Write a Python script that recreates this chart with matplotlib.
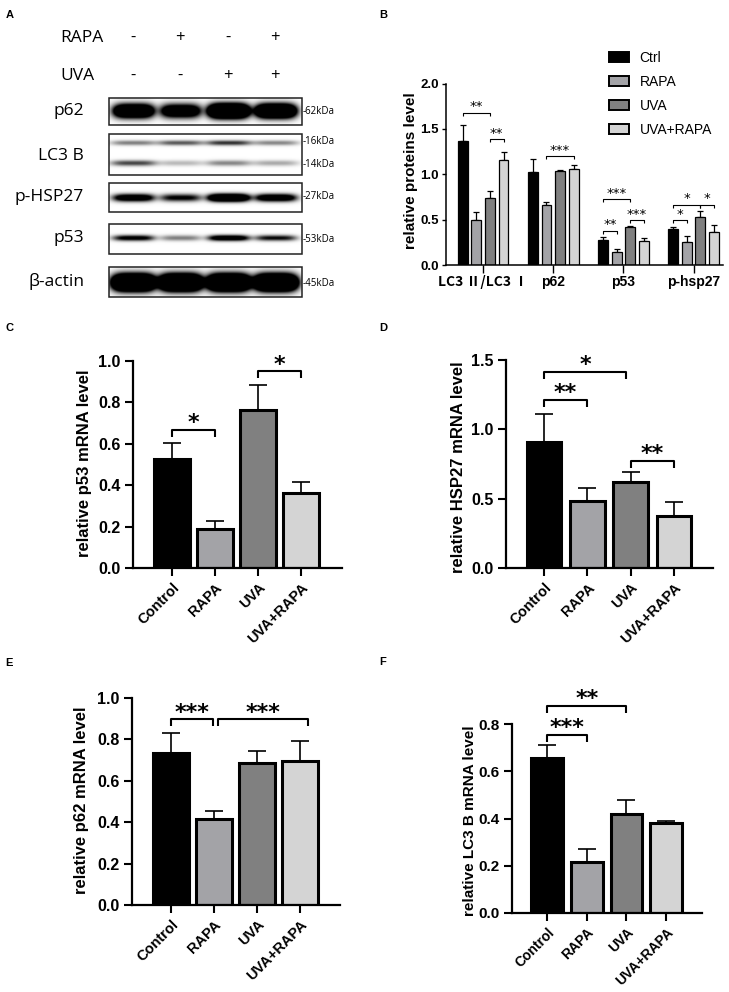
import numpy as np
import matplotlib
matplotlib.use('Agg')
import matplotlib.pyplot as plt
from matplotlib.patches import Rectangle, Patch
from matplotlib.ticker import FormatStrFormatter

W, H = 729, 992
plt.rcParams['font.family'] = ['Liberation Sans', 'DejaVu Sans']
plt.rcParams['font.weight'] = 'bold'
plt.rcParams['axes.labelweight'] = 'bold'

# ------------------------------------------------------------------ data
groups = ['Control', 'RAPA', 'UVA', 'UVA+RAPA']
legend_labels = ['Ctrl', 'RAPA', 'UVA', 'UVA+RAPA']
colors = ['#000000', '#a3a3a7', '#808080', '#d4d4d4']

# panel A (western blot)
rapa_signs = ['-', '+', '-', '+']
uva_signs = ['-', '-', '+', '+']
blot_names = ['p62', 'LC3 B', 'p-HSP27', 'p53', 'β-actin']
p62_band = [3.0, 2.2, 4.6, 3.8]
lc3_16_band = [0.45, 0.62, 0.80, 0.42]
lc3_14_band = [0.70, 0.22, 0.42, 0.28]
hsp27_band = [1.7, 1.1, 2.8, 1.8]
p53_band = [1.2, 0.45, 1.6, 1.0]
actin_band = [5.0, 5.0, 5.0, 5.0]

# panel B
b_categories = ['LC3 Ⅱ/LC3 Ⅰ', 'p62', 'p53', 'p-hsp27']
b_ctrl = [1.364, 1.03, 0.272, 0.393]
b_rapa = [0.496, 0.658, 0.14, 0.254]
b_uva = [0.739, 1.037, 0.415, 0.526]
b_uvarapa = [1.162, 1.055, 0.268, 0.368]
b_ctrl_err = [0.18, 0.14, 0.033, 0.026]
b_rapa_err = [0.084, 0.032, 0.04, 0.062]
b_uva_err = [0.077, 0.007, 0.011, 0.066]
b_uvarapa_err = [0.081, 0.052, 0.03, 0.069]
# (category, bar i, bar j, bracket height, label)
b_sig = [(0, 0, 2, 1.68, '**'), (0, 2, 3, 1.386, '**'), (1, 1, 3, 1.20, '***'),
         (2, 0, 2, 0.724, '***'), (2, 0, 1, 0.375, '**'), (2, 2, 3, 0.496, '***'),
         (3, 0, 2, 0.662, '*'), (3, 0, 1, 0.496, '*'), (3, 2, 3, 0.662, '*')]

# panels C-F (mRNA)
p53_mrna = [0.526, 0.19, 0.763, 0.36]
p53_mrna_err = [0.079, 0.036, 0.121, 0.056]
p53_sig = [(0, 1, 0.666, '*'), (2, 3, 0.95, '*')]

hsp27_mrna = [0.91, 0.482, 0.619, 0.376]
hsp27_mrna_err = [0.203, 0.096, 0.074, 0.101]
hsp27_sig = [(0, 1.9, 1.417, '*'), (0, 1, 1.211, '**'), (2, 3, 0.773, '**')]

p62_mrna = [0.735, 0.415, 0.686, 0.696]
p62_mrna_err = [0.098, 0.038, 0.058, 0.095]
p62_sig = [(0, 0.97, 0.897, '***'), (1.09, 3.18, 0.897, '***')]

lc3b_mrna = [0.656, 0.216, 0.418, 0.381]
lc3b_mrna_err = [0.054, 0.054, 0.06, 0.009]
lc3b_sig = [(0, 2, 0.878, '**'), (0, 1, 0.753, '***')]

# ------------------------------------------------------------------ figure
fig = plt.figure(figsize=(W / 100, H / 100), dpi=100)


def px_axes(x0, x1, y_top, y_bot):
    return fig.add_axes([x0 / W, 1 - y_bot / H, (x1 - x0) / W, (y_bot - y_top) / H])


# panel letters
for letter, (lx, ly) in zip('ABCDEF', [(10, 15), (383, 15), (10, 328), (383, 328), (9, 663), (383, 662)]):
    fig.text(lx / W, 1 - ly / H, letter, fontsize=8, fontweight='bold', ha='center', va='center')

# ------------------------------------------------------------------ panel A
axA = px_axes(0, 360, 0, 300)
axA.set_xlim(0, 360)
axA.set_ylim(300, 0)
axA.axis('off')
lane_x = [133, 180, 228, 275]
AFONT = ['Open Sans', 'DejaVu Sans']
axA.text(103, 38, 'RAPA', ha='right', va='center', fontsize=12.5, fontweight='normal', family=AFONT)
axA.text(94, 76, 'UVA', ha='right', va='center', fontsize=12.5, fontweight='normal', family=AFONT)
for lx, rs, us in zip(lane_x, rapa_signs, uva_signs):
    axA.text(lx, 38, rs, ha='center', va='center', fontsize=12, fontweight='normal', family=AFONT)
    axA.text(lx, 76, us, ha='center', va='center', fontsize=12, fontweight='normal', family=AFONT)

box_l, box_r = 108.5, 301.5
blots = [
    # name, top, bottom, [(band y, intensities, sx, sy)], [(kDa label, y)]
    ('p62', 97.5, 125, [(111, p62_band, 19.5, 6.0)], [('-62kDa', 111)]),
    ('LC3 B', 133.5, 175, [(143, lc3_16_band, 22, 2.3), (163, lc3_14_band, 22, 2.6)],
     [('-16kDa', 141), ('-14kDa', 164)]),
    ('p-HSP27', 182.5, 211.5, [(197, hsp27_band, 20, 3.4)], [('-27kDa', 196)]),
    ('p53', 223.5, 254, [(238, p53_band, 20, 2.6)], [('-53kDa', 239.5)]),
    ('β-actin', 267, 296.5, [(282, actin_band, 20.5, 7.0)], [('-45kDa', 283)]),
]
name_y = [111, 156, 197, 238, 281]
for (name, top, bot, bands, kda), ny in zip(blots, name_y):
    xs = np.arange(box_l, box_r, 0.5)
    ys = np.arange(top, bot, 0.5)
    X, Y = np.meshgrid(xs, ys)
    dark = np.zeros_like(X)
    for (by, amps, sx, sy) in bands:
        for lx, a in zip(lane_x, amps):
            dark += a * np.exp(-(np.abs(X - lx) / sx) ** 4) * np.exp(-((Y - by) / sy) ** 2)
    img = 1 - np.clip(dark, 0, 1) ** 0.85
    axA.imshow(img, cmap='gray', vmin=0, vmax=1, extent=(box_l, box_r, bot, top),
               origin='upper', aspect='auto', interpolation='bilinear', zorder=1)
    axA.add_patch(Rectangle((box_l, top), box_r - box_l, bot - top, fill=False,
                            edgecolor='#222222', lw=1.1, zorder=2))
    axA.text(84, ny, name, ha='right', va='center', fontsize=12.5, fontweight='normal', family=AFONT)
    for lab, ky in kda:
        axA.text(302.5, ky, lab, ha='left', va='center', fontsize=7, fontweight='normal', family=AFONT)


# ------------------------------------------------------------------ helpers
def bracket(ax, x1, x2, y, h, text, fs, lw, off, weight):
    ax.plot([x1, x1, x2, x2], [y - h, y, y, y - h], color='black', lw=lw, clip_on=False,
            solid_capstyle='butt', zorder=5)
    ax.annotate(text, xy=((x1 + x2) / 2, y), xytext=(0, off), textcoords='offset points',
                ha='center', va='baseline', fontsize=fs, family=['DejaVu Sans'],
                fontweight=weight, annotation_clip=False)


def style_axes(ax, lw, xlen, ylen, tw, xfs, yfs, pad):
    for s in ['top', 'right']:
        ax.spines[s].set_visible(False)
    for s in ['left', 'bottom']:
        ax.spines[s].set_linewidth(lw)
    ax.tick_params(axis='x', length=xlen, width=tw, labelsize=xfs, direction='out', pad=pad)
    ax.tick_params(axis='y', length=ylen, width=tw, labelsize=yfs, direction='out', pad=pad)
    ax.yaxis.set_major_formatter(FormatStrFormatter('%.1f'))


# ------------------------------------------------------------------ panel B
axB = px_axes(446, 723, 83.6, 265)
b_series = [b_ctrl, b_rapa, b_uva, b_uvarapa]
b_errs = [b_ctrl_err, b_rapa_err, b_uva_err, b_uvarapa_err]
cat_x = np.arange(len(b_categories))
offsets = np.array([-1.5, -0.5, 0.5, 1.5]) * 0.194
for k in range(4):
    xk = cat_x + offsets[k]
    axB.errorbar(xk, b_series[k], yerr=[np.zeros(4), b_errs[k]], fmt='none', ecolor='black',
                 elinewidth=0.9, capsize=2.4, capthick=0.9, zorder=1)
    axB.bar(xk, b_series[k], width=0.14, color=colors[k], edgecolor='black', linewidth=0.9, zorder=2)
axB.set_xlim(-0.53, 3.42)
axB.set_ylim(0, 2.0)
axB.set_yticks([0, 0.5, 1.0, 1.5, 2.0])
axB.set_xticks(cat_x)
axB.set_xticklabels(b_categories)
style_axes(axB, 1.1, 5.5, 3, 1.0, 10, 9.5, 2)
axB.get_xticklabels()[0].set_family(['Noto Sans CJK SC', 'DejaVu Sans'])
axB.set_ylabel('relative proteins level', fontsize=11)
axB.yaxis.set_label_coords(-0.101, 0.518)
hB = 3 * 2.0 / 181.4
for (c, i, j, y, lab) in b_sig:
    bracket(axB, c + offsets[i], c + offsets[j], y, hB, lab, 9.5, 0.8, 1.8, 'normal')
handles = [Patch(facecolor=col, edgecolor='black', linewidth=1.4) for col in colors]
axB.legend(handles, legend_labels, loc='upper left', bbox_to_anchor=(609 / W, 1 - 51 / H),
           bbox_transform=fig.transFigure, frameon=False, borderpad=0, borderaxespad=0,
           handlelength=1.45, handleheight=0.75, handletextpad=0.75, labelspacing=0.72,
           prop={'size': 10, 'weight': 'normal'})


# ------------------------------------------------------------------ panels C-F
def mrna_panel(box, vals, errs, ymax, yticks, ylabel, sigs, width, xfs, yfs, lfs, label_xy):
    x0, x1, yt, yb = box
    ax = px_axes(x0, x1, yt, yb)
    x = np.arange(4)
    ax.errorbar(x, vals, yerr=[np.zeros(4), errs], fmt='none', ecolor='black',
                elinewidth=1.2, capsize=6.8, capthick=1.2, zorder=1)
    ax.bar(x, vals, width=width, color=colors, edgecolor='black', linewidth=2.2, zorder=2)
    ax.set_ylim(0, ymax)
    ax.set_yticks(yticks)
    ax.set_xticks(x)
    ax.set_xticklabels(groups, rotation=45, ha='right', rotation_mode='anchor')
    style_axes(ax, 1.6, 6, 6, 1.5, xfs, yfs, 3)
    ax.set_ylabel(ylabel, fontsize=lfs)
    ax.yaxis.set_label_coords(*label_xy)
    h = 7 * ymax / (yb - yt)
    for (i, j, y, lab) in sigs:
        bracket(ax, i, j, y, h, lab, 16, 1.5, 0.5, 'bold')
    return ax


axC = mrna_panel((133, 342, 361, 568), p53_mrna, p53_mrna_err, 1.0, [0, 0.2, 0.4, 0.6, 0.8, 1.0],
                 'relative p53 mRNA level', p53_sig, 0.84, 10.5, 11.5, 12, (-0.196, 0.507))
axC.set_xlim(-0.907, 3.95)
axD = mrna_panel((506, 713, 360, 568), hsp27_mrna, hsp27_mrna_err, 1.5, [0, 0.5, 1.0, 1.5],
                 'relative HSP27 mRNA level', hsp27_sig, 0.80, 10.5, 11.5, 12, (-0.193, 0.483))
axD.set_xlim(-0.878, 3.90)
axE = mrna_panel((132, 340, 698, 905), p62_mrna, p62_mrna_err, 1.0, [0, 0.2, 0.4, 0.6, 0.8, 1.0],
                 'relative p62 mRNA level', p62_sig, 0.84, 10.5, 11.5, 12, (-0.207, 0.507))
axE.set_xlim(-0.907, 3.93)
axF = mrna_panel((512, 702, 724, 913), lc3b_mrna, lc3b_mrna_err, 0.8, [0, 0.2, 0.4, 0.6, 0.8],
                 'relative LC3 B mRNA level', lc3b_sig, 0.80, 10, 11, 11, (-0.184, 0.49))
axF.set_xlim(-0.88, 3.90)

fig.savefig('out.png', dpi=100)
